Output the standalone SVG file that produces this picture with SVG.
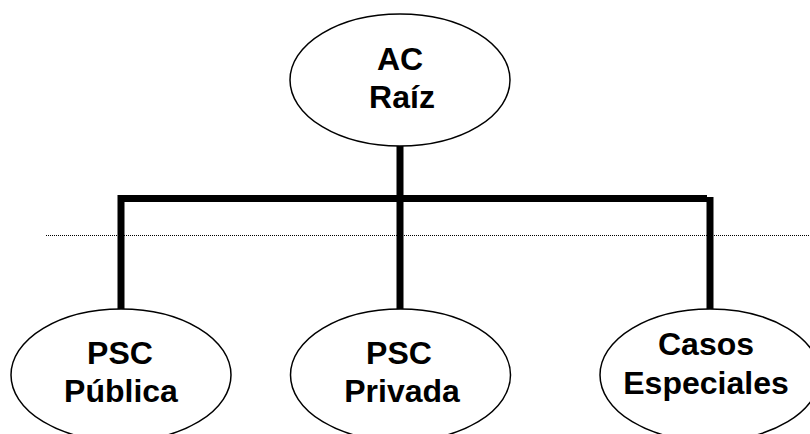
<svg xmlns="http://www.w3.org/2000/svg" width="810" height="434" viewBox="0 0 810 434">
  <style>
    .node ellipse { fill: #ffffff; stroke: #000000; stroke-width: 1.5; }
    .node text { font-family: "Liberation Sans", Arial, sans-serif; font-weight: bold; font-size: 32px; fill: #000000; text-anchor: middle; }
    .link { fill: none; stroke: #000000; stroke-width: 7; }
    .guide { stroke: #000000; stroke-width: 1; stroke-dasharray: 1 1; }
  </style>
  <rect width="810" height="434" fill="#ffffff"/>

  <!-- dotted guide line -->
  <line class="guide" x1="46" y1="235.5" x2="810" y2="235.5"/>

  <g id="connectors">
    <path class="link" d="M121,310 V198.5 H707"/>
    <line class="link" x1="400" y1="146" x2="400" y2="310"/>
    <line class="link" x1="710" y1="197" x2="710" y2="310"/>
  </g>

  <g id="ac-raiz" class="node">
    <ellipse cx="400" cy="80" rx="110" ry="66"/>
    <text x="400" y="70">AC</text>
    <text x="402" y="108">Raíz</text>
  </g>

  <g id="psc-publica" class="node">
    <ellipse cx="121" cy="375" rx="110" ry="66"/>
    <text x="120" y="364">PSC</text>
    <text x="121" y="402">Pública</text>
  </g>

  <g id="psc-privada" class="node">
    <ellipse cx="400.5" cy="375" rx="110" ry="66"/>
    <text x="399" y="364">PSC</text>
    <text x="402" y="402">Privada</text>
  </g>

  <g id="casos-especiales" class="node">
    <ellipse cx="710" cy="375" rx="110" ry="66"/>
    <text x="706" y="355">Casos</text>
    <text x="706" y="394">Especiales</text>
  </g>
</svg>
